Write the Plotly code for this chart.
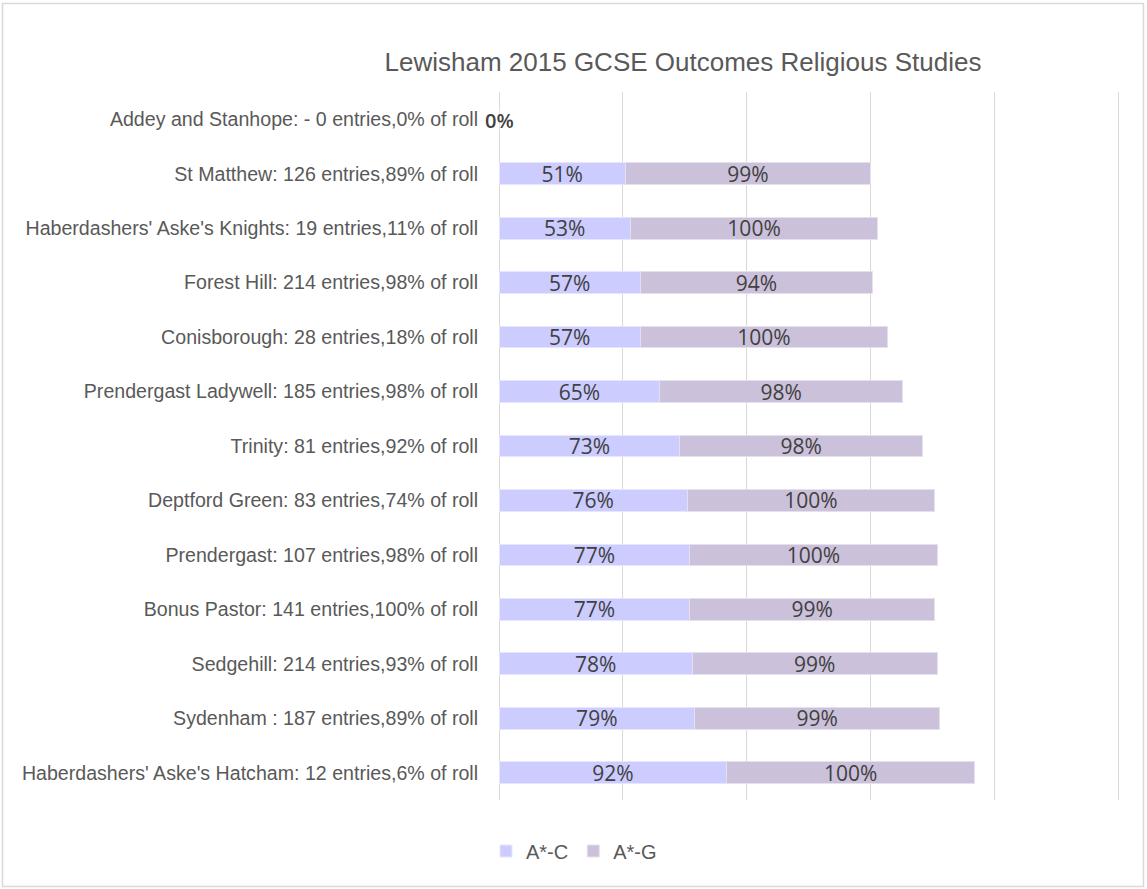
import plotly.graph_objects as go

schools = [
    "Addey and Stanhope: - 0 entries,0% of roll",
    "St Matthew: 126 entries,89% of roll",
    "Haberdashers' Aske's Knights: 19 entries,11% of roll",
    "Forest Hill: 214 entries,98% of roll",
    "Conisborough: 28 entries,18% of roll",
    "Prendergast Ladywell: 185 entries,98% of roll",
    "Trinity: 81 entries,92% of roll",
    "Deptford Green: 83 entries,74% of roll",
    "Prendergast: 107 entries,98% of roll",
    "Bonus Pastor: 141 entries,100% of roll",
    "Sedgehill: 214 entries,93% of roll",
    "Sydenham : 187 entries,89% of roll",
    "Haberdashers' Aske's Hatcham: 12 entries,6% of roll",
]
a_c = [0, 51, 53, 57, 57, 65, 73, 76, 77, 77, 78, 79, 92]
a_g = [0, 99, 100, 94, 100, 98, 98, 100, 100, 99, 99, 99, 100]
grid_ticks = [0, 50, 100, 150, 200, 250]

W, H = 1147, 889
L, R, T, B = 499, 24, 92, 89
pw, ph = W - L - R, H - T - B

narrow = "Liberation Sans Narrow, Arial Narrow, sans-serif"
lblfont = dict(family="Open Sans, Calibri, sans-serif", size=21, color="#404040")

fig = go.Figure()
fig.add_trace(go.Bar(
    y=schools, x=a_c, orientation="h", name="A*-C",
    marker=dict(color="#CCCCFF", line=dict(color="#E6E6FF", width=1)),
    text=[f"{v}%" if v else "" for v in a_c], textposition="inside",
    insidetextanchor="middle", textfont=lblfont, textangle=0,
    constraintext="none", cliponaxis=False,
))
fig.add_trace(go.Bar(
    y=schools, x=a_g, orientation="h", name="A*-G",
    marker=dict(color="#CCC1DA", line=dict(color="#E6E0EC", width=1)),
    text=[f"{v}%" if v else "" for v in a_g], textposition="inside",
    insidetextanchor="middle", textfont=lblfont, textangle=0,
    constraintext="none", cliponaxis=False,
))

for s, v1, v2 in zip(schools, a_c, a_g):
    if v1 == 0 and v2 == 0:
        fig.add_annotation(x=0, y=s, xref="x", yref="y", text=f"{v1}%",
                           showarrow=False, xanchor="center", yshift=-1,
                           font=dict(family="Open Sans, sans-serif", size=20,
                                     color="#404040", weight=600))

def px_x(p):
    return (p - L) / pw

def px_y(p):
    return 1 - (p - T) / ph

fig.add_shape(type="rect", xref="paper", yref="paper",
              x0=px_x(2.5), x1=px_x(1143.5), y0=px_y(3.5), y1=px_y(886.5),
              line=dict(color="#D9D9D9", width=1.5), fillcolor="rgba(0,0,0,0)", layer="below")

fig.update_layout(
    width=W, height=H,
    barmode="stack", bargap=0.6,
    paper_bgcolor="white", plot_bgcolor="white",
    margin=dict(l=L, r=R, t=T, b=B, autoexpand=False),
    title=dict(text="Lewisham 2015 GCSE Outcomes Religious Studies",
               x=683 / W, xanchor="center",
               y=1 - 62 / H, yanchor="middle",
               font=dict(family=narrow, size=26, color="#595959")),
    xaxis=dict(range=[0, 252], tickvals=grid_ticks, showticklabels=False,
               showgrid=True, gridcolor="#D9D9D9", gridwidth=1,
               zeroline=True, zerolinecolor="#D9D9D9", zerolinewidth=1,
               showline=False, fixedrange=True),
    yaxis=dict(autorange="reversed", showgrid=False, zeroline=False,
               tickfont=dict(family=narrow, size=19.6, color="#595959"),
               ticks="outside", ticklen=16, tickcolor="rgba(0,0,0,0)",
               showline=False, fixedrange=True),
    legend=dict(orientation="h", x=px_x(574), xanchor="center",
                y=px_y(851), yanchor="middle",
                font=dict(family=narrow, size=20, color="#595959"),
                itemwidth=30, traceorder="normal"),
    showlegend=True,
)

fig.write_html("out.html", config={"displayModeBar": False},
               post_script="document.body.style.margin='0px';")
